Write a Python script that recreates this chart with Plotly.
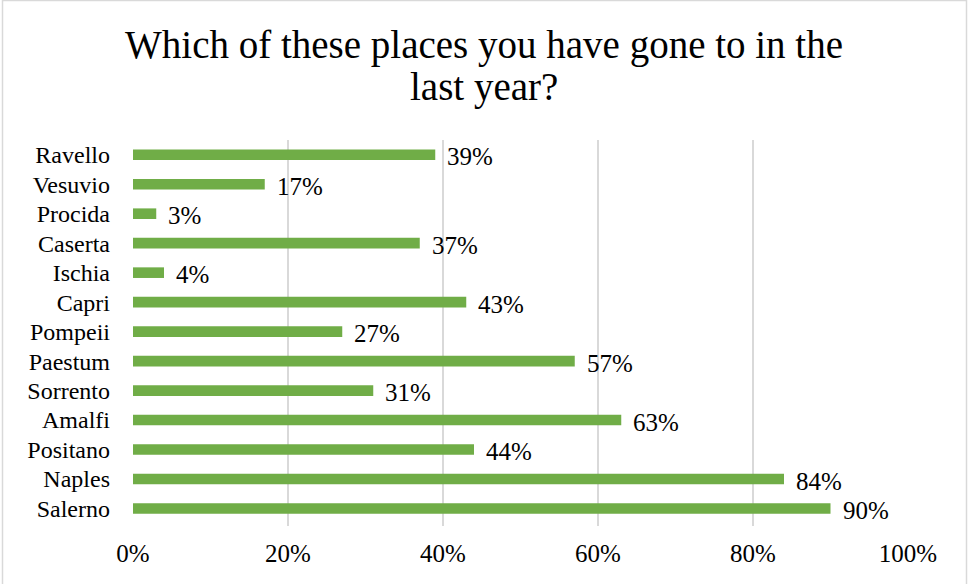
import plotly.graph_objects as go

places = ["Salerno", "Naples", "Positano", "Amalfi", "Sorrento", "Paestum", "Pompeii",
          "Capri", "Ischia", "Caserta", "Procida", "Vesuvio", "Ravello"]
shares = [0.90, 0.84, 0.44, 0.63, 0.31, 0.57, 0.27, 0.43, 0.04, 0.37, 0.03, 0.17, 0.39]
tick_vals = [0, 0.2, 0.4, 0.6, 0.8, 1.0]
tick_text = ["0%", "20%", "40%", "60%", "80%", "100%"]
title_lines = ["Which of these places you have gone to in the", "last year?"]

W, H = 968, 584
L, R, T, B = 133, 60, 140, 58
pw, ph = W - L - R, H - T - B

serif = "'Liberation Serif', serif"

fig = go.Figure(go.Bar(
    y=places, x=shares, orientation="h",
    marker=dict(color="#70AD47", line=dict(width=0)),
    width=0.36,
    hoverinfo="x+y",
))

# value labels to the right of each bar
annotations = [
    dict(x=v, y=p, xref="x", yref="y", text=f"{round(v * 100)}%",
         showarrow=False, xanchor="left", yanchor="middle", xshift=10, yshift=-2,
         font=dict(family=serif, size=25, color="#000000"))
    for p, v in zip(places, shares)
]
# two-line chart title, centred on the page
for i, line in enumerate(title_lines):
    annotations.append(dict(
        x=(484 - L) / pw, xref="paper", y=(H - 45 - 42 * i - B) / ph, yref="paper",
        text=line, showarrow=False, xanchor="center", yanchor="middle",
        font=dict(family=serif, size=39, color="#000000"),
    ))

fig.update_layout(
    width=W, height=H,
    margin=dict(l=L, r=R, t=T, b=B, autoexpand=False),
    paper_bgcolor="white", plot_bgcolor="white",
    showlegend=False,
    annotations=annotations,
    xaxis=dict(
        range=[0, 1.0], tickvals=tick_vals, ticktext=tick_text,
        showgrid=True, gridcolor="#d9d9d9", gridwidth=2,
        zeroline=False, showline=False, ticks="", automargin=False,
        tickfont=dict(family=serif, size=25, color="#000000"),
        ticklabelstandoff=10,
    ),
    yaxis=dict(
        showgrid=False, zeroline=False, showline=False, ticks="", automargin=False,
        tickfont=dict(family=serif, size=24, color="#000000"),
        ticklabelstandoff=22,
    ),
    shapes=[dict(
        type="rect", xref="paper", yref="paper",
        x0=(2.5 - L) / pw, x1=(966.5 - L) / pw,
        y0=-(B + 5) / ph, y1=(H - B - 0.5) / ph,
        line=dict(color="#d9d9d9", width=1.5), fillcolor="rgba(0,0,0,0)", layer="below",
    )],
)

fig.write_html("out.html")
